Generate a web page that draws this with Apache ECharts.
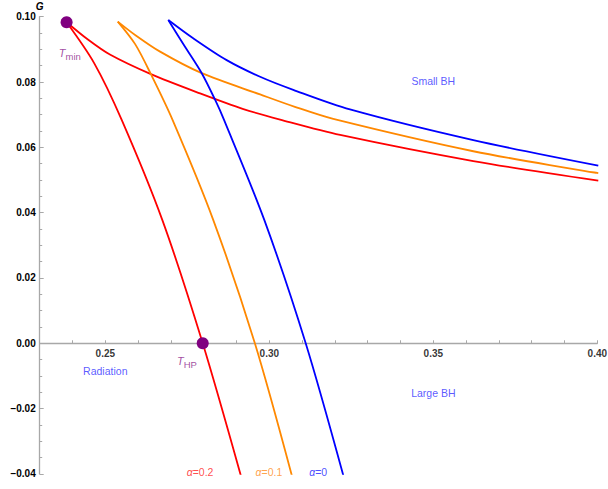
<!DOCTYPE html>
<html><head><meta charset="utf-8">
<script src="https://cdn.jsdelivr.net/npm/echarts@6/dist/echarts.min.js"></script>
<style>html,body{margin:0;padding:0;background:#fff}#c{width:608px;height:489px}</style>
</head><body><div id="c"></div>
<script>
// ---- data ----
const xMajorTicks = [0.25, 0.30, 0.35, 0.40];
const xTickStep = 0.01;

// alpha = 0.2 (red)
const alpha02Small = [[0.2382,0.0983],[0.2447,0.0930],[0.2514,0.0884],[0.2639,0.0824],[0.2789,0.0765],[0.2921,0.0717],[0.3033,0.0685],[0.3216,0.0638],[0.3622,0.0558],[0.4003,0.0498]];
const alpha02Large = [[0.2382,0.0983],[0.2466,0.0858],[0.2550,0.0684],[0.2674,0.0377],[0.2797,0.0000],[0.2914,-0.0408]];
// alpha = 0.1 (orange)
const alpha01Small = [[0.2538,0.0985],[0.2591,0.0944],[0.2667,0.0893],[0.2794,0.0827],[0.2972,0.0762],[0.3078,0.0724],[0.3195,0.0687],[0.3622,0.0588],[0.4003,0.0521]];
const alpha01Large = [[0.2538,0.0985],[0.2591,0.0916],[0.2639,0.0824],[0.2705,0.0684],[0.2829,0.0378],[0.2956,0.0000],[0.3069,-0.0406]];
// alpha = 0 (blue)
const alpha0Small = [[0.2692,0.0990],[0.2768,0.0934],[0.2870,0.0867],[0.2972,0.0816],[0.3073,0.0776],[0.3246,0.0716],[0.3622,0.0622],[0.4003,0.0544]];
const alpha0Large = [[0.2692,0.0990],[0.2743,0.0908],[0.2794,0.0827],[0.2835,0.0745],[0.2862,0.0684],[0.2985,0.0377],[0.3111,0.0000],[0.3226,-0.0406]];

const specialPoints = [[0.2382,0.0983],[0.2797,0.0000]];
const specialLabels = [[0.2392,0.0889,'min'],[0.2749,-0.0054,'HP']];
const regionLabels = [[0.3500,0.0803,'Small BH'],[0.3500,-0.0152,'Large BH'],[0.2500,-0.0085,'Radiation']];
const alphaLabels = [[0.2789,-0.0393,'0.2','#ff2020'],[0.2999,-0.0393,'0.1','#ff8c1a'],[0.3149,-0.0393,'0','#2020ff']];

// ---- chart ----
const FONT = "'Liberation Sans', Arial, sans-serif";
const AX = '#a8a8a8';
const PURPLE = '#8a1a8a';
const chart = echarts.init(document.getElementById('c'), null, {renderer:'svg'});

function curve(data, color){
  return {type:'line', data, symbol:'none', showSymbol:false, smooth:0.3, clip:true,
    lineStyle:{color, width:1.8}, z:2, silent:true};
}

chart.setOption({
  animation:false,
  backgroundColor:'#fff',
  grid:{left:39.7, right:10.7, top:16.7, bottom:15.1, containLabel:false},
  xAxis:{
    type:'value', min:0.23, max:0.40, interval:xTickStep,
    axisLine:{onZero:true, lineStyle:{color:AX, width:1.3}},
    axisTick:{show:true, inside:true, length:3, lineStyle:{color:AX, width:1}},
    axisLabel:{show:false},
    splitLine:{show:false}
  },
  yAxis:{
    type:'value', min:-0.04, max:0.10, interval:0.02,
    axisLine:{show:true, onZero:false, lineStyle:{color:AX, width:1.3}},
    axisTick:{show:true, inside:true, length:4, lineStyle:{color:AX, width:1}},
    minorTick:{show:true, splitNumber:4, length:2.5, lineStyle:{color:AX, width:1}},
    axisLabel:{formatter:v=>(v< -1e-9?'\u2212':'')+Math.abs(v).toFixed(2), fontFamily:FONT, fontWeight:'bold', fontSize:10, color:'#000', margin:4},
    splitLine:{show:false},
    name:'G', nameLocation:'end', nameGap:5,
    nameTextStyle:{fontFamily:FONT, fontStyle:'italic', fontWeight:'bold', fontSize:10, color:'#000'}
  },
  series:[
    curve(alpha02Small,'#ff0000'), curve(alpha02Large,'#ff0000'),
    curve(alpha01Small,'#ff8800'), curve(alpha01Large,'#ff8800'),
    curve(alpha0Small,'#0000ff'), curve(alpha0Large,'#0000ff'),
    // x tick labels sitting under the G = 0 axis
    {type:'scatter', data:xMajorTicks.map(v=>[v,0]), symbolSize:0, z:6, silent:true, clip:false,
      label:{show:true, position:'bottom', distance:5, formatter:p=>p.data[0].toFixed(2),
        fontFamily:FONT, fontWeight:'bold', fontSize:10, color:'#000'}},
    {type:'scatter', data:specialPoints, symbolSize:12, itemStyle:{color:'#800080', opacity:1}, z:5, silent:true},
    {type:'scatter', data:specialLabels, symbolSize:0, z:6, silent:true,
      label:{show:true, position:'inside', formatter:p=>'{t|T}{s|'+p.data[2]+'}',
        rich:{t:{fontFamily:FONT, fontStyle:'italic', fontSize:11, color:PURPLE},
              s:{fontFamily:FONT, fontSize:9.5, color:PURPLE, padding:[7,0,0,0]}}}},
    {type:'scatter', data:regionLabels, symbolSize:0, z:6, silent:true,
      label:{show:true, position:'inside', formatter:p=>p.data[2], fontFamily:FONT, fontSize:10.5, color:'#3030ff'}},
    {type:'scatter', data:alphaLabels.map(d=>({value:[d[0],d[1]], name:d[2],
        label:{color:d[3], rich:{a:{color:d[3], fontStyle:'italic', fontFamily:FONT, fontSize:10.5}, b:{color:d[3], fontFamily:FONT, fontSize:10.5}}}})),
      symbolSize:0, z:6, silent:true,
      label:{show:true, position:'inside', formatter:p=>'{a|\u03b1}{b|='+p.name+'}', fontFamily:FONT, fontSize:10.5}}
  ]
});
</script></body></html>
